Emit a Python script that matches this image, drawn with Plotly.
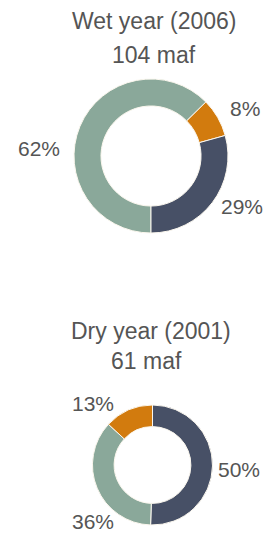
import plotly.graph_objects as go

# Data
wet_title = "Wet year (2006)"
wet_total = "104 maf"
wet_categories = ["Green", "Orange", "Navy"]
wet_values = [62, 8, 29]
wet_labels = ["62%", "8%", "29%"]

dry_title = "Dry year (2001)"
dry_total = "61 maf"
dry_categories = ["Navy", "Green", "Orange"]
dry_values = [50, 36, 13]
dry_labels = ["50%", "36%", "13%"]

color_map = {"Navy": "#475066", "Orange": "#d27b0e", "Green": "#8aa89a"}
TEXT = "#555555"
FONT = "Liberation Sans, Arial, sans-serif"

W, H = 273, 535
OFF = 8  # page body margin offset

def px(x):
    return (x - OFF) / W

def py(y):
    return 1 - (y - OFF) / H

def dom_x(cx, r):
    return [px(cx - r), px(cx + r)]

def dom_y(cy, r):
    return [py(cy + r), py(cy - r)]

fig = go.Figure()
fig.add_trace(go.Pie(
    labels=wet_categories, values=wet_values,
    textinfo="none",
    marker=dict(colors=[color_map[c] for c in wet_categories],
                line=dict(color="#fbf7ee", width=1)),
    hole=0.65, sort=False, direction="clockwise", rotation=180,
    domain=dict(x=dom_x(151, 77), y=dom_y(156, 77)),
    showlegend=False, hoverinfo="skip",
))
fig.add_trace(go.Pie(
    labels=dry_categories, values=dry_values,
    textinfo="none",
    marker=dict(colors=[color_map[c] for c in dry_categories],
                line=dict(color="#fbf7ee", width=1)),
    hole=0.64, sort=False, direction="clockwise", rotation=0,
    domain=dict(x=dom_x(152.5, 60), y=dom_y(465, 60)),
    showlegend=False, hoverinfo="skip",
))

def ann(text, x, y, size):
    return dict(text=text, x=px(x), y=py(y), xref="paper", yref="paper",
                showarrow=False, xanchor="center", yanchor="middle",
                font=dict(family=FONT, size=size, color=TEXT))

# label positions (window px), separate from data
wet_label_pos = [(38.5, 148), (244.5, 108), (241.5, 206.5)]
dry_label_pos = [(239, 469.5), (92.5, 521.5), (93, 403)]

annotations = [
    ann(wet_title, 154, 21, 23), ann(wet_total, 154, 55, 23),
    ann(dry_title, 150.5, 331, 23), ann(dry_total, 146, 361, 23),
]
for t, (x, y) in zip(wet_labels, wet_label_pos):
    annotations.append(ann(t, x, y, 21))
for t, (x, y) in zip(dry_labels, dry_label_pos):
    annotations.append(ann(t, x, y, 21))

fig.update_layout(
    width=W, height=H,
    margin=dict(l=0, r=0, t=0, b=0),
    paper_bgcolor="white", plot_bgcolor="white",
    annotations=annotations,
)

fig.write_html("out.html")
